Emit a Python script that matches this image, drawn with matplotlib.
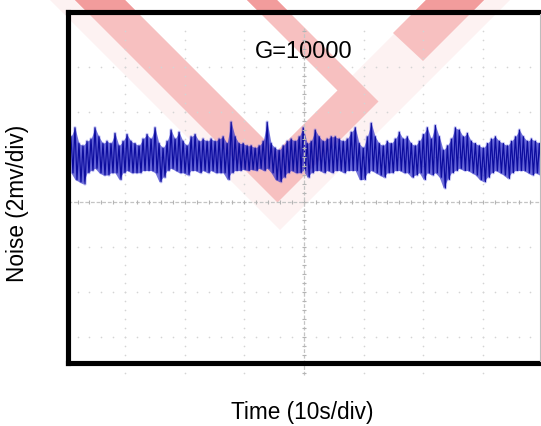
import numpy as np
import matplotlib
matplotlib.use("Agg")
import matplotlib.pyplot as plt
from matplotlib.patches import Polygon, Rectangle
from matplotlib.lines import Line2D

plt.rcParams['font.family'] = ['Liberation Sans', 'DejaVu Sans']

# ---------------- data ----------------
title_text = "G=10000"
x_label = "Time (10s/div)"
y_label = "Noise (2mv/div)"
time_per_div = 10.0   # seconds per division
volt_per_div = 2.0    # mV per division
trace_start_s = -39.1
trace_end_s = 39.5
# peak-detect envelope of the noise trace (upper / lower excursion), mV
noise_hi_mV = [
    2.9, 3.3, 2.6, 2.5, 2.7, 2.8, 3.3, 2.9, 2.6, 2.7,
    2.6, 3.05, 2.5, 2.7, 3.0, 2.7, 2.6, 2.5, 2.8, 3.0,
    2.8, 3.3, 2.6, 2.4, 2.7, 3.2, 2.8, 3.1, 2.7, 2.5,
    2.9, 3.0, 2.7, 2.8, 2.7, 2.8, 2.7, 2.8, 2.9, 2.6,
    3.55, 2.9, 2.6, 2.6, 2.5, 2.5, 2.4, 2.5, 2.7, 3.55,
    2.6, 2.4, 2.3, 2.5, 2.7, 2.8, 2.7, 2.9, 3.3, 2.6,
    2.7, 3.2, 2.9, 2.7, 2.8, 2.9, 2.9, 2.8, 2.7, 2.8,
    3.1, 3.3, 2.6, 2.4, 2.9, 3.5, 2.9, 2.6, 2.5, 2.7,
    2.6, 2.8, 3.1, 2.8, 2.9, 2.6, 2.5, 2.7, 3.0, 3.3,
    2.8, 3.4, 2.9, 2.3, 2.5, 2.8, 3.3, 3.2, 2.9, 3.05,
    2.7, 2.6, 2.5, 2.4, 2.6, 2.8, 2.9, 2.7, 2.6, 2.5,
    2.7, 2.9, 3.2, 2.9, 2.7, 2.8, 2.7, 2.6,
]
noise_lo_mV = [
    1.3, 1.0, 0.9, 0.8, 1.3, 1.4, 1.5, 1.3, 1.2, 1.2,
    1.3, 1.3, 1.0, 1.3, 1.4, 1.3, 1.3, 1.3, 1.4, 1.4,
    1.4, 1.3, 0.9, 1.1, 1.4, 1.5, 1.4, 1.3, 1.3, 1.2,
    1.4, 1.4, 1.3, 1.4, 1.3, 1.4, 1.3, 1.3, 1.3, 1.0,
    1.3, 1.4, 1.4, 1.45, 1.4, 1.45, 1.4, 1.5, 1.4, 1.5,
    1.3, 1.0, 0.9, 1.1, 1.3, 1.4, 1.3, 1.3, 1.4, 1.1,
    1.3, 1.4, 1.4, 1.3, 1.4, 1.3, 1.4, 1.4, 1.3, 1.4,
    1.4, 1.4, 1.0, 1.0, 1.3, 1.4, 1.3, 1.2, 1.1, 1.3,
    1.3, 1.4, 1.4, 1.3, 1.3, 1.1, 1.2, 1.3, 1.0, 1.3,
    1.2, 1.3, 1.1, 0.62, 1.0, 1.3, 1.4, 1.5, 1.4, 1.4,
    1.3, 1.2, 1.0, 0.9, 1.1, 1.3, 1.4, 1.3, 1.2, 1.05,
    1.3, 1.4, 1.4, 1.4, 1.3, 1.2, 1.3, 1.2,
]

# ---------------- layout ----------------
W, H = 541, 426
fig = plt.figure(figsize=(W / 100, H / 100), dpi=100)
fig.patch.set_facecolor('white')

L, R, T, B = 68, 546, 11.5, 363      # frame (pixel)
cx, cy = 304, 202                     # graticule centre (pixel)
px_per_s = 59.6 / time_per_div
px_per_mV = 45.0 / volt_per_div

ax = fig.add_axes([L / W, 1 - B / H, (R - L) / W, (B - T) / H])
ax.set_facecolor('none')
ax.set_xlim((L - cx) / px_per_s, (R - cx) / px_per_s)
ax.set_ylim(-(B - cy) / px_per_mV, (cy - T) / px_per_mV)
ax.set_xticks([])
ax.set_yticks([])

# ---------------- watermark (figure pixels) ----------------
top_clip = Rectangle((0, 1 - 10 / H), 1, 10 / H, transform=fig.transFigure)

def fpoly(pts, color, z=-2, clip=None):
    p = Polygon([(x / W, 1 - y / H) for x, y in pts], closed=True,
                transform=fig.transFigure, facecolor=color, edgecolor='none',
                zorder=z)
    fig.add_artist(p)
    if clip is not None:
        p.set_clip_path(clip)

faint_v = [(50, 0), (125, 0), (276.5, 151.5), (428, 0), (510, 0), (280, 230)]
main_v = [(75, 0), (125, 0), (276.5, 151.5), (337.5, 90.5), (247, 0), (277, 0),
          (378.5, 101.5), (277.5, 202.5)]
corner_bar = [(426, 0), (393, 33), (423, 61), (484, 0)]

fpoly(faint_v, '#fdf2f2', z=-3)
fpoly(main_v, '#f7c0c0')
fpoly(corner_bar, '#f7c0c0')
fpoly(main_v, '#f29c9c', z=-1.5, clip=top_clip)
fpoly(corner_bar, '#f29c9c', z=-1.5, clip=top_clip)

# ---------------- graticule ----------------
dot_c = '#d4d4d4'
row_x = np.arange(-38, 39.9, 2.0)
for k in [-3, -2, -1, 1, 2, 3]:
    ax.plot(row_x, np.full_like(row_x, k * volt_per_div), ls='none',
            marker='o', ms=1.2, mec='none', mfc=dot_c, zorder=1)
col_y = np.arange(-7.6, 7.61, 0.4)
for k in [-3, -2, -1, 1, 2, 3]:
    ax.plot(np.full_like(col_y, k * time_per_div), col_y, ls='none',
            marker='o', ms=1.2, mec='none', mfc=dot_c, zorder=1, clip_on=False)

axis_c = '#c4c4c4'
ax.plot([(L - cx) / px_per_s, (R - cx) / px_per_s], [0, 0], color=axis_c,
        lw=0.9, ls=(0, (3, 1.5)), zorder=4)
tx = np.arange(-38, 40.1, 2.0)
ax.plot(tx, np.zeros_like(tx), ls='none', marker='|', ms=3.5, mew=0.8,
        color='#b4b4b4', zorder=4)
ax.plot([0, 0], [-7.7, 7.75], color=axis_c, lw=0.9, ls=(0, (3, 1.5)),
        zorder=4, clip_on=False)
ty = np.arange(-7.6, 7.61, 0.4)
ax.plot(np.zeros_like(ty), ty, ls='none', marker='_', ms=3.5, mew=0.8,
        color='#b4b4b4', zorder=4, clip_on=False)

# ---------------- trace (peak-detect band between envelopes) ----------------
n = len(noise_hi_mV)
t = np.linspace(trace_start_s, trace_end_s, n)
dt = t[1] - t[0]
tz = np.empty(2 * n)
yz = np.empty(2 * n)
tz[0::2] = t
tz[1::2] = t + dt / 2
yz[0::2] = noise_hi_mV
yz[1::2] = noise_lo_mV
ax.plot(tz, yz, color='#6464ea', lw=2.4, alpha=0.35, zorder=2)
ax.fill_between(t, noise_lo_mV, noise_hi_mV, color='#2c2cc6', lw=0,
                alpha=0.65, zorder=2.5)
ax.plot(tz, yz, color='#0c0c9e', lw=0.9, zorder=3)

# ---------------- text ----------------
ax.text(0, (cy - 52) / px_per_mV, title_text, ha='center', va='center',
        fontsize=17, color='black', zorder=3)
fig.text(302 / W, 1 - 412 / H, x_label, ha='center', va='center', fontsize=16.3)
fig.text(18 / W, 1 - 203 / H, y_label, ha='center', va='center',
         rotation=90, fontsize=16.3)

# ---------------- frame ----------------
for s in ['left', 'top', 'bottom']:
    ax.spines[s].set_linewidth(3.7)
    ax.spines[s].set_color('black')
    ax.spines[s].set_capstyle('projecting')
    ax.spines[s].set_zorder(10)
ax.spines['right'].set_visible(False)

fig.add_artist(Line2D([539.5 / W] * 2, [1 - 14 / H, 1 - 361 / H],
                      color='#bdbdbd', lw=0.8, transform=fig.transFigure))

fig.savefig('out.png', dpi=100)
